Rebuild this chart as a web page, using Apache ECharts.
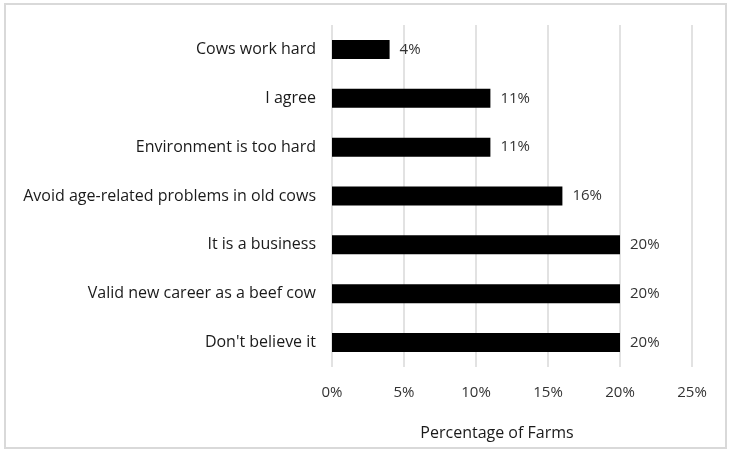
<!doctype html>
<html>
<head>
    <meta charset="UTF-8">
    <title>Percentage of Farms</title>
    <script src="https://cdn.jsdelivr.net/npm/echarts@6/dist/echarts.min.js"></script>
    <style>
        html, body { margin: 0; padding: 0; background: #fff; }
        #main { width: 732px; height: 455px; }
    </style>
</head>
<body>
<div id="main"></div>
<script>
    // categories from bottom to top (category axis on y starts at the bottom)
    var reasons = ["Don't believe it", 'Valid new career as a beef cow', 'It is a business',
        'Avoid age-related problems in old cows', 'Environment is too hard', 'I agree', 'Cows work hard'];
    var farmPct = [20, 20, 20, 16, 11, 11, 4];
    var xTicks = [0, 5, 10, 15, 20, 25];

    var font = 'Open Sans';
    var myChart = echarts.init(document.getElementById('main'));
    var option = {
        animation: false,
        textStyle: { fontFamily: font },
        graphic: [{
            type: 'rect',
            shape: { x: 5, y: 4, width: 721, height: 444 },
            style: { fill: 'none', stroke: '#d9d9d9', lineWidth: 2 }
        }],
        grid: { left: 332, right: 40, top: 25, bottom: 88 },
        xAxis: {
            type: 'value',
            min: xTicks[0],
            max: xTicks[xTicks.length - 1],
            interval: 5,
            name: 'Percentage of Farms',
            nameLocation: 'middle',
            nameGap: 58,
            nameTextStyle: { fontSize: 16, color: '#1a1a1a', fontFamily: font, padding: [0, 30, 0, 0] },
            axisLine: { show: false },
            axisTick: { show: false },
            axisLabel: { fontSize: 15, color: '#333', margin: 18, formatter: '{value}%' },
            splitLine: { show: true, lineStyle: { color: '#d9d9d9', width: 1.5 } }
        },
        yAxis: {
            type: 'category',
            data: reasons,
            axisLine: { show: false },
            axisTick: { show: false },
            axisLabel: { fontSize: 16, color: '#1a1a1a', margin: 16 }
        },
        series: [{
            type: 'bar',
            data: farmPct,
            barWidth: 19,
            itemStyle: { color: '#000' },
            label: {
                show: true,
                position: 'right',
                distance: 10,
                fontSize: 15,
                color: '#333',
                formatter: '{c}%'
            }
        }]
    };
    myChart.setOption(option);
</script>
</body>
</html>
